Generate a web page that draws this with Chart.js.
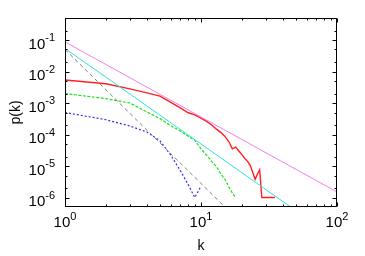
<!DOCTYPE html>
<html><head><meta charset="utf-8">
<script src="https://cdn.jsdelivr.net/npm/chart.js@4/dist/chart.umd.min.js"></script>
<style>html,body{margin:0;padding:0;background:#fff;}canvas{display:block}</style>
</head><body>
<canvas id="c" width="365" height="256"></canvas>
<script>
// ---- data ----
const kRed = [1,2,3,4,5,6,7,8,9,10,11,12,13,14,15,16,17,18,19,20,21,22,23,24,25,26,27,28,35];
const pRed = [5.4e-3,4.1e-3,2.8e-3,2.1e-3,1.66e-3,1.05e-3,7.1e-4,5.0e-4,4.2e-4,3.3e-4,2.6e-4,2.0e-4,1.48e-4,1.15e-4,8.7e-5,6.0e-5,3.5e-5,4.0e-5,3.0e-5,2.3e-5,1.74e-5,1.41e-5,1.05e-5,6.3e-6,3.8e-6,5.5e-6,7.6e-6,1.0e-6,1.0e-6];
const kGreen = [1,2,3,4,5,6,7,8,9,10,11,12,13,14,15,16,17,18];
const pGreen = [2.0e-3,1.38e-3,1.0e-3,5.2e-4,3.2e-4,1.9e-4,1.32e-4,8.9e-5,6.6e-5,3.5e-5,2.2e-5,1.38e-5,9.5e-6,5.6e-6,3.8e-6,2.2e-6,1.4e-6,1.0e-6];
const kBlue = [1,2,3,4,5,6,7,8,9,10];
const pBlue = [5.0e-4,2.95e-4,1.86e-4,1.2e-4,6.3e-5,2.2e-5,7.5e-6,2.7e-6,1.0e-6,2.3e-6];
const kMagenta = [1,100];
const pMagenta = [0.087,1.5e-6];
const kCyan = [1,50];
const pCyan = [0.054,3.8e-7];
const kGray = [1,16];
const pGray = [0.05,3.8e-7];
const xMajorTicks = [1,10,100];
const xMinorTicks = [2,3,4,5,6,7,8,9,20,30,40,50,60,70,80,90];
const yMajorTicks = [1e-6,1e-5,1e-4,1e-3,1e-2,1e-1];
const yMinorTicks = [2e-6,5e-6,2e-5,5e-5,2e-4,5e-4,2e-3,5e-3,2e-2,5e-2,2e-1];
const xTickLabels = [['10','0'],['10','1'],['10','2']];
const yTickLabels = [['10','-6'],['10','-5'],['10','-4'],['10','-3'],['10','-2'],['10','-1']];
const xTitle = 'k';
const yTitle = 'p(k)';

const pts = (ks, ps) => ks.map((k, i) => ({x: k, y: ps[i]}));
const FONT = '"Liberation Sans", Arial, sans-serif';

const framePlugin = {
  id: 'frame',
  afterDraw(chart) {
    const ctx = chart.ctx, a = chart.chartArea;
    const xs = chart.scales.x, ys = chart.scales.y;
    ctx.save();
    ctx.strokeStyle = '#000';
    ctx.lineWidth = 1;
    const L = a.left + 0.5, R = a.right - 0.5, T = a.top + 0.5, B = a.bottom - 0.5;
    ctx.strokeRect(L, T, R - L, B - T);
    ctx.beginPath();
    const xt = (v, len) => {
      const p = Math.round(xs.getPixelForValue(v)) + 0.5;
      ctx.moveTo(p, B); ctx.lineTo(p, B - len);
      ctx.moveTo(p, T); ctx.lineTo(p, T + len);
    };
    const yt = (v, len) => {
      const p = Math.round(ys.getPixelForValue(v)) + 0.5;
      ctx.moveTo(L, p); ctx.lineTo(L + len, p);
      ctx.moveTo(R, p); ctx.lineTo(R - len, p);
    };
    xMajorTicks.forEach(v => xt(v, 4));
    xMinorTicks.forEach(v => xt(v, 2));
    yMajorTicks.forEach(v => yt(v, 4));
    yMinorTicks.forEach(v => yt(v, 2));
    ctx.stroke();

    ctx.fillStyle = '#000';
    const big = '15px ' + FONT, small = '11px ' + FONT;
    ctx.textBaseline = 'alphabetic';
    ctx.textAlign = 'left';
    xMajorTicks.forEach((v, i) => {
      const [b, e] = xTickLabels[i];
      ctx.font = big; const wb = ctx.measureText(b).width;
      ctx.font = small; const we = ctx.measureText(e).width;
      const cx = xs.getPixelForValue(v);
      const x0 = cx - (wb + we) / 2;
      ctx.font = big; ctx.fillText(b, x0, 227);
      ctx.font = small; ctx.fillText(e, x0 + wb, 220);
    });
    yMajorTicks.forEach((v, i) => {
      const [b, e] = yTickLabels[i];
      ctx.font = big; const wb = ctx.measureText(b).width;
      ctx.font = small; const we = ctx.measureText(e).width;
      const cy = ys.getPixelForValue(v);
      const x1 = 55;
      ctx.font = small; ctx.fillText(e, x1 - we, cy + 1);
      ctx.font = big; ctx.fillText(b, x1 - we - wb, cy + 8.5);
    });
    ctx.font = '14px ' + FONT;
    ctx.textAlign = 'center';
    ctx.fillText(xTitle, (a.left + a.right) / 2, 250);
    ctx.save();
    ctx.translate(16, (a.top + a.bottom) / 2);
    ctx.rotate(-Math.PI / 2);
    ctx.textBaseline = 'middle';
    ctx.fillText(yTitle, 0, 0);
    ctx.restore();
    ctx.restore();
  }
};

const ds = (label, ks, ps, color, width, dash) => ({
  label, data: pts(ks, ps), borderColor: color, backgroundColor: color,
  borderWidth: width, borderDash: dash, pointRadius: 0, tension: 0, fill: false
});

new Chart(document.getElementById('c'), {
  type: 'line',
  data: {
    datasets: [
      ds('magenta', kMagenta, pMagenta, '#f080f0', 1, []),
      ds('cyan', kCyan, pCyan, '#30e0e0', 1, []),
      ds('gray', kGray, pGray, '#808080', 1, [4, 3]),
      ds('blue', kBlue, pBlue, '#3030f0', 1.2, [2, 2]),
      ds('green', kGreen, pGreen, '#20e020', 1.2, [3, 1.5]),
      ds('red', kRed, pRed, '#ff2020', 1.4, [])
    ]
  },
  options: {
    responsive: false,
    animation: false,
    layout: {padding: {left: 65, top: 18, right: 28, bottom: 49}},
    plugins: {legend: {display: false}, tooltip: {enabled: false}},
    scales: {
      x: {type: 'logarithmic', min: 1, max: 100, display: false},
      y: {type: 'logarithmic', min: 5e-7, max: 0.5, display: false}
    }
  },
  plugins: [framePlugin]
});
</script>
</body></html>
